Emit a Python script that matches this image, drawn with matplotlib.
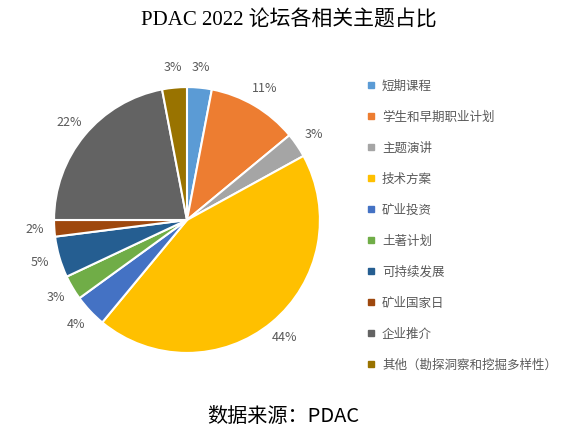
import matplotlib.pyplot as plt
from matplotlib.lines import Line2D

plt.rcParams['font.family'] = ['Noto Sans CJK SC', 'DejaVu Sans']

# 数据
categories = ['短期课程', '学生和早期职业计划', '主题演讲', '技术方案', '矿业投资',
              '土著计划', '可持续发展', '矿业国家日', '企业推介',
              '其他（勘探洞察和挖掘多样性）']
shares = [3, 11, 3, 44, 4, 3, 5, 2, 22, 3]
colors = ['#5B9BD5', '#ED7D31', '#A5A5A5', '#FFC000', '#4472C4',
          '#70AD47', '#255E91', '#9E480E', '#636363', '#997300']

fig = plt.figure(figsize=(5.78, 4.44), dpi=100)
ax = fig.add_axes([0.3235 - 0.23, 0.5045 - 0.2995, 0.46, 0.599])

wedges, texts = ax.pie(
    shares,
    colors=colors,
    startangle=90,
    counterclock=False,
    labels=[f'{v}%' for v in shares],
    labeldistance=1.15,
    wedgeprops=dict(edgecolor='white', linewidth=1.5),
    textprops=dict(color='#595959', fontsize=9),
)
for t in texts:
    t.set_horizontalalignment('center')
    t.set_verticalalignment('center')
ax.set_xlim(-1.0, 1.0)
ax.set_ylim(-1.0, 1.0)
ax.set_aspect('equal')

# 图例
handles = [Line2D([0], [0], marker='s', linestyle='none', markersize=5,
                  markerfacecolor=c, markeredgecolor=c) for c in colors]
leg = fig.legend(handles, categories, loc='upper left',
                 bbox_to_anchor=(0.622, 0.835), frameon=False,
                 fontsize=9, labelcolor='#595959', handlelength=0.8,
                 handletextpad=0.5, labelspacing=1.44, borderpad=0)

# 标题
fig.text(0.5, 0.953, 'PDAC 2022 论坛各相关主题占比', ha='center', va='center',
         fontsize=15, family=['Liberation Serif', 'Noto Sans CJK SC'])
fig.text(0.49, 0.063, '数据来源：PDAC', ha='center', va='center',
         fontsize=14.5, family=['Noto Sans CJK SC'])

plt.savefig('out.png', dpi=100)
plt.close()
